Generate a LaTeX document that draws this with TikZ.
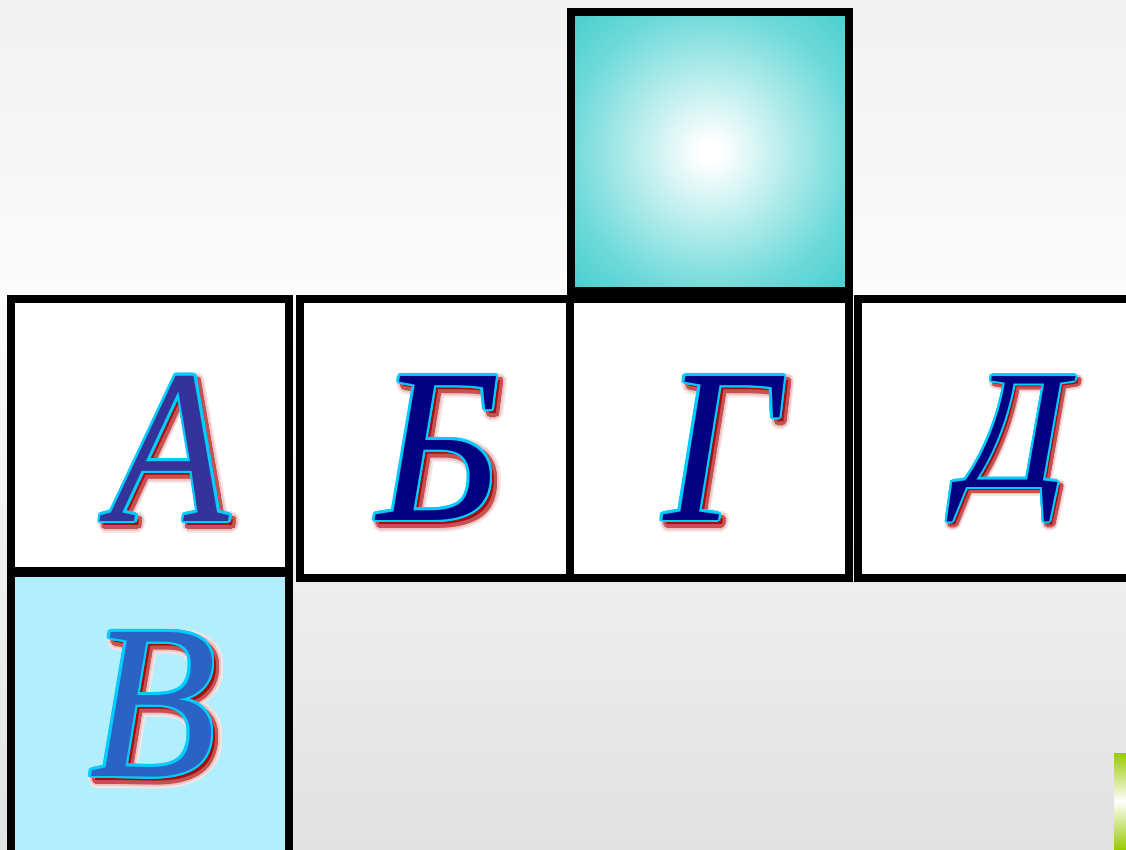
\documentclass[tikz,border=0pt]{standalone}
\usepackage{fontspec}
\setmainfont{Liberation Serif}
\usetikzlibrary{shadings}
\definecolor{bgtop}{HTML}{F2F2F2}
\definecolor{bgmid}{HTML}{FBFBFB}
\definecolor{bglow}{HTML}{EEEEEE}
\definecolor{bgbot}{HTML}{E2E2E2}
\definecolor{tealmid}{RGB}{112,218,218}
\definecolor{tealout}{RGB}{68,204,204}
\definecolor{vfill}{HTML}{B3EEFC}
\definecolor{outlinecyan}{HTML}{00CCFF}
\definecolor{fillA}{HTML}{333399}
\definecolor{fillnavy}{HTML}{000080}
\definecolor{fillV}{HTML}{2B63C4}
\definecolor{shadowfaint}{HTML}{F6E4E4}
\definecolor{shadowlight}{HTML}{EBC4C4}
\definecolor{shadowmid}{HTML}{C85050}
\definecolor{shadowdark}{HTML}{A01010}
\definecolor{greenbar}{HTML}{99CC00}
\pgfdeclareverticalshading{bgshade}{100bp}{color(0bp)=(bgbot); color(25bp)=(bgbot); color(40.8bp)=(bglow); color(57.9bp)=(bgmid); color(75bp)=(bgtop); color(100bp)=(bgtop)}
\pgfdeclareradialshading{tealshade}{\pgfpoint{0bp}{0bp}}{color(0bp)=(white); color(2bp)=(white); color(25bp)=(tealmid); color(36bp)=(tealout); color(50bp)=(tealout)}
\newcommand\lring[3]{%
  \foreach \ang in {0,22.5,...,337.5}{%
    \pgfmathsetlengthmacro\ldx{#1*cos(\ang)}%
    \pgfmathsetlengthmacro\ldy{#1*sin(\ang)}%
    \rlap{\hspace*{\ldx}\raisebox{\ldy}{\textcolor{#2}{#3}}}}%
}
\newcommand\fancyletter[2]{%
  \rlap{\hspace*{3.5pt}\raisebox{-3.5pt}{\lring{5.5pt}{shadowfaint}{#2}\lring{4pt}{shadowlight}{#2}\lring{2.5pt}{shadowmid}{#2}\textcolor{shadowdark}{#2}}}%
  \lring{2pt}{outlinecyan}{#2}%
  \textcolor{#1}{#2}}
\tikzset{
  cellborder/.style={draw=black, line width=6pt, line join=miter},
  letter/.style={inner sep=0pt, anchor=base, font=\fontsize{165}{165}\selectfont\itshape}
}
\begin{document}
\begin{tikzpicture}[x=0.75pt,y=-0.75pt]
\useasboundingbox (0,0) rectangle (1126,849);
\begin{scope}
\clip (0,0) rectangle (1126,849);
\shade[shading=bgshade] (0,0) rectangle (1126,849);
% fills
\shade[shading=tealshade] (570.5,12) rectangle (849,291);
\fill[white] (11,299) rectangle (289,571);
\fill[vfill] (11,572) rectangle (289,870);
\fill[white] (300,299) rectangle (570,578);
\fill[white] (570,299) rectangle (849,578);
\fill[white] (857,299) rectangle (1150,578);
% borders
\draw[cellborder] (570.5,12) rectangle (849,291);
\draw[cellborder] (11,299) rectangle (289,571);
\draw[cellborder] (11,573) rectangle (289,870);
\draw[cellborder] (300,299) rectangle (570,578);
\draw[cellborder] (570,299) rectangle (849,578);
\draw[cellborder] (857.5,299) rectangle (1150,578);
% green bar
\shade[top color=greenbar, bottom color=greenbar, middle color=white] (1114,753) rectangle (1126,849);
\end{scope}
% letters
\node[letter] (lA) at (170,521) {\scalebox{0.88}[1]{\fancyletter{fillA}{А}}};
\node[letter] (lB) at (439,520) {\scalebox{0.95}[1]{\fancyletter{fillnavy}{Б}}};
\node[letter] (lG) at (721,520) {\scalebox{0.91}[1]{\fancyletter{fillnavy}{Г}}};
\node[letter] (lD) at (1014,487) {\scalebox{0.77}{\fancyletter{fillnavy}{Д}}};
\node[letter] (lV) at (153,776) {\scalebox{0.95}[1]{\fancyletter{fillV}{В}}};
\end{tikzpicture}
\end{document}
